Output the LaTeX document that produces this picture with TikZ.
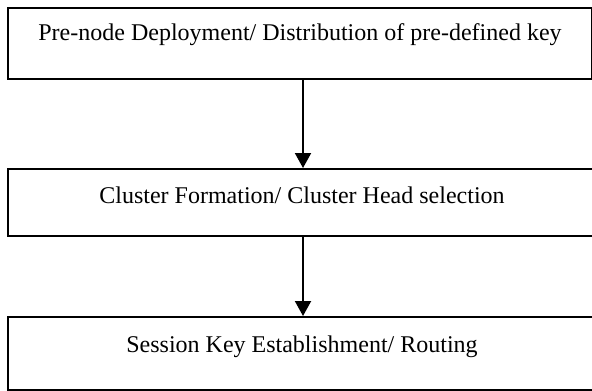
\documentclass[tikz,border=0pt]{standalone}
\usepackage{fontspec}
\setmainfont{Liberation Serif}
\usetikzlibrary{arrows.meta}
\tikzset{stage/.style={draw, line width=1pt, inner sep=0pt, minimum width=292pt,
    anchor=north west, font=\fontsize{12}{14}\selectfont}}
\begin{document}
\begin{tikzpicture}[>={Triangle[width=8pt,length=7.5pt]}, line width=1pt]
    \useasboundingbox (0,0) rectangle (296pt,-195pt);
    \node[stage, text height=16.5pt, text depth=19pt] (deploy) at (3.5pt,-3.5pt)
        {Pre-node Deployment/ Distribution of pre-defined key};
    \node[stage, minimum width=294pt, text height=17.3pt, text depth=16.2pt] (cluster) at (3.5pt,-84pt)
        {Cluster Formation/ Cluster Head selection};
    \node[stage, minimum width=294pt, text height=17.5pt, text depth=19pt] (session) at (3.5pt,-158pt)
        {Session Key Establishment/ Routing};
    \draw [->] ([xshift=1.5pt]deploy.south)--([xshift=0.5pt]cluster.north);
    \draw [->] ([xshift=0.5pt]cluster.south)--([xshift=0.5pt]session.north);
\end{tikzpicture}
\end{document}
